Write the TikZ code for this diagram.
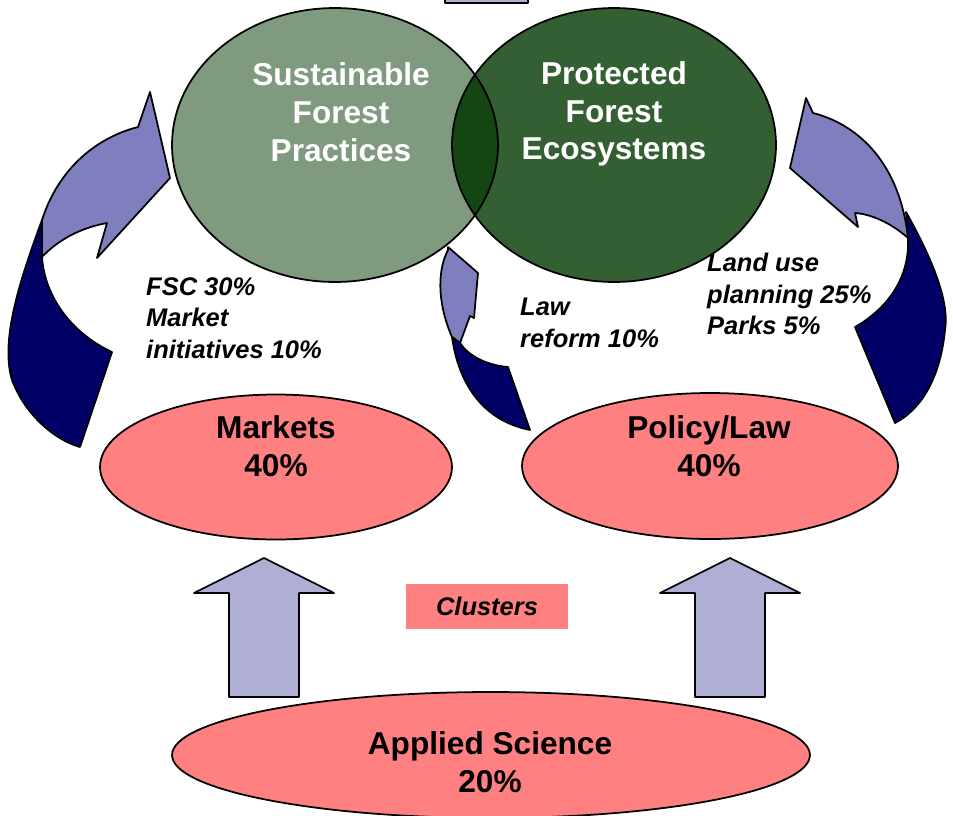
\documentclass[tikz,border=0pt]{standalone}
\usepackage{fontspec}
\setmainfont{Liberation Sans}
\definecolor{sfpgreen}{HTML}{7F9A7F}
\definecolor{pfegreen}{HTML}{335F33}
\definecolor{overlapgreen}{HTML}{134613}
\definecolor{salmon}{HTML}{FF8080}
\definecolor{lavender}{HTML}{AFAFD6}
\definecolor{twistlight}{HTML}{7F7FBF}
\definecolor{twistdark}{HTML}{000066}
\tikzset{
  outline/.style={draw=black,line width=1pt,line join=round},
  bigtext/.style={font=\bfseries\fontsize{18}{21.5}\selectfont,align=center},
  notetext/.style={font=\bfseries\itshape\fontsize{14.5}{18}\selectfont,align=left,anchor=west},
}
\begin{document}
\begin{tikzpicture}[x=0.02cm,y=-0.02cm,line join=round,line cap=round]
\useasboundingbox (0,0) rectangle (953,815);
% top box (cut off)
\draw[outline,fill=lavender] (445,-20) rectangle (528,3);
% the two forest ellipses and their overlap
\fill[sfpgreen] (335,145) ellipse [x radius=3.26cm,y radius=2.74cm];
\fill[pfegreen] (614,145) ellipse [x radius=3.24cm,y radius=2.74cm];
\begin{scope}
  \clip (335,145) ellipse [x radius=3.26cm,y radius=2.74cm];
  \fill[overlapgreen] (614,145) ellipse [x radius=3.24cm,y radius=2.74cm];
\end{scope}
\draw[outline] (335,145) ellipse [x radius=3.26cm,y radius=2.74cm]
  (614,145) ellipse [x radius=3.24cm,y radius=2.74cm];
\node[bigtext,text=white] (sfp) at (341,112) {Sustainable\\Forest\\Practices};
\node[bigtext,text=white] (pfe) at (614,114) {Protected\\Forest\\Ecosystems};
% twisted arrows
\draw[outline,fill=twistlight] (138,127) -- (150,92) -- (170,178) -- (97,258) -- (107,223)
  .. controls (80,228) and (58,240) .. (42,257) -- (42,220)
  .. controls (58,170) and (95,138) .. (138,127) -- cycle;
\draw[outline,fill=twistdark] (42,220) .. controls (20,280) and (0,340) .. (12,380)
  .. controls (25,415) and (55,440) .. (80,447) -- (112,352)
  .. controls (75,335) and (45,300) .. (42,257) -- cycle;
\draw[outline,fill=twistlight] (806,98) -- (813,113)
  .. controls (860,125) and (900,165) .. (908,238)
  .. controls (890,222) and (870,214) .. (855,213) -- (858,227) -- (790,168) -- cycle;
\draw[outline,fill=twistdark] (906,212) .. controls (930,255) and (950,300) .. (945,330)
  .. controls (940,380) and (920,410) .. (895,423) -- (855,327)
  .. controls (885,310) and (910,280) .. (908,238) -- cycle;
\draw[outline,fill=twistlight] (448,247) -- (478,273) -- (474,318) -- (470,316) -- (460,343)
  -- (452,337) .. controls (440,310) and (435,275) .. (448,250) -- cycle;
\draw[outline,fill=twistdark] (452,337) .. controls (458,380) and (480,420) .. (530,430)
  -- (508,367) .. controls (485,365) and (468,355) .. (460,343) -- cycle;
% notes
\node[notetext] (fsc) at (140,318) {FSC 30\%\\Market\\initiatives 10\%};
\node[notetext] (law) at (514,323) {Law\\reform 10\%};
\node[notetext] (land) at (701,294) {Land use\\planning 25\%\\Parks 5\%};
% markets and policy
\draw[outline,fill=salmon] (276,467) ellipse [x radius=3.52cm,y radius=1.45cm];
\draw[outline,fill=salmon] (710,466) ellipse [x radius=3.76cm,y radius=1.46cm];
\node[bigtext] (mkt) at (276,446) {Markets\\40\%};
\node[bigtext] (pol) at (709,446) {Policy/Law\\40\%};
% up arrows
\foreach \cx in {264,730}{
  \draw[outline,fill=lavender] (\cx-35,697) -- (\cx-35,593) -- (\cx-70,593) -- (\cx,558)
    -- (\cx+70,593) -- (\cx+35,593) -- (\cx+35,697) -- cycle;}
\node[fill=salmon,minimum width=3.26cm,minimum height=0.9cm,
  font=\bfseries\itshape\fontsize{14.5}{18}\selectfont] (clu) at (487,606) {Clusters};
% applied science
\draw[outline,fill=salmon] (491,755) ellipse [x radius=6.38cm,y radius=1.26cm];
\node[bigtext] (sci) at (490,762) {Applied Science\\20\%};
\end{tikzpicture}
\end{document}
